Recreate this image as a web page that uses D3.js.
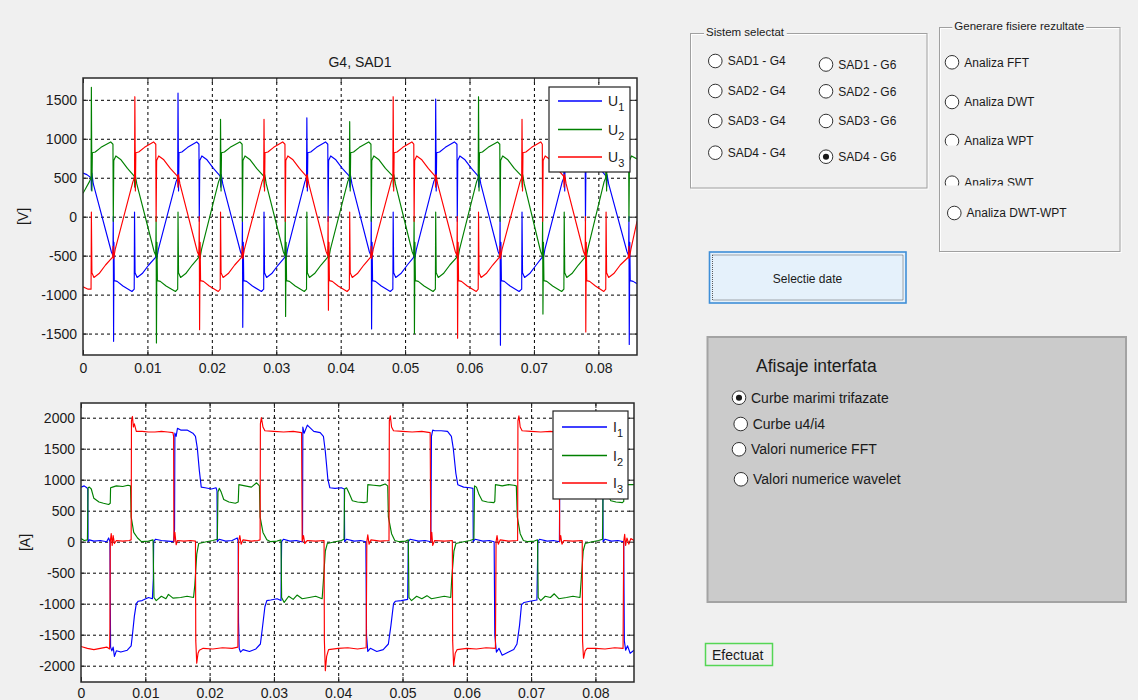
<!DOCTYPE html>
<html>
<head>
<meta charset="utf-8">
<script src="https://cdn.jsdelivr.net/npm/d3@7"></script>
<style>
  html, body { margin: 0; padding: 0; background: #f0f0f0; }
  svg { display: block; font-family: "Liberation Sans", Arial, sans-serif; }
</style>
</head>
<body>
<div id="chart"></div>
<script>
// axes ticks
const xTicks = [0, 0.01, 0.02, 0.03, 0.04, 0.05, 0.06, 0.07, 0.08];
const xTickLabels = ['0', '0.01', '0.02', '0.03', '0.04', '0.05', '0.06', '0.07', '0.08'];
const uTicks = [-1500, -1000, -500, 0, 500, 1000, 1500];
const iTicks = [-2000, -1500, -1000, -500, 0, 500, 1000, 1500, 2000];

// phase voltages, [time ms, V]
const u1 = [[0,560],[0.6,540],[1.25,500],[1.3,340],[1.38,560],[1.6,420],
  [4.4,-450],[4.65,-500],[4.7,0],[4.75,-1600],[4.8,-330],[4.85,-820],[5.3,-830],[6.2,-890],[7.6,-960],[7.95,-930],[8.0,60],[8.08,-720],[8.4,-780],[9.2,-730],[10.2,-620],[11.3,-520],[11.38,-380],[11.45,-540],[11.7,-420],
  [14.45,450],[14.7,500],[14.75,1585],[14.83,330],[14.9,820],[15.35,830],[16.25,890],[17.65,960],[18.0,930],[18.05,-60],[18.13,720],[18.45,780],[19.25,730],[20.25,620],[21.3,520],[21.38,380],[21.45,540],[21.7,420],
  [24.45,-450],[24.7,-500],[24.75,0],[24.8,-1420],[24.88,-330],[24.95,-820],[25.4,-830],[26.3,-890],[27.7,-960],[28.05,-930],[28.1,60],[28.18,-720],[28.5,-780],[29.3,-730],[30.3,-620],[31.35,-520],[31.43,-380],[31.5,-540],[31.75,-420],
  [34.45,450],[34.7,500],[34.75,1270],[34.83,330],[34.9,820],[35.35,830],[36.25,890],[37.65,960],[38.0,930],[38.05,-60],[38.13,720],[38.45,780],[39.25,730],[40.25,620],[41.35,520],[41.43,380],[41.5,540],[41.75,420],
  [44.45,-450],[44.7,-500],[44.75,0],[44.8,-1440],[44.88,-330],[44.95,-820],[45.4,-830],[46.3,-890],[47.7,-960],[48.1,-930],[48.15,60],[48.23,-720],[48.55,-780],[49.35,-730],[50.35,-620],[51.35,-520],[51.43,-380],[51.5,-540],[51.75,-420],
  [54.45,450],[54.7,500],[54.75,1510],[54.83,330],[54.9,820],[55.35,830],[56.25,890],[57.65,960],[58.05,930],[58.1,-60],[58.18,720],[58.5,780],[59.3,730],[60.3,620],[61.35,520],[61.43,380],[61.5,540],[61.75,420],
  [64.45,-450],[64.7,-500],[64.75,0],[64.8,-1650],[64.88,-330],[64.95,-820],[65.4,-830],[66.3,-890],[67.7,-960],[68.1,-930],[68.15,60],[68.23,-720],[68.55,-780],[69.35,-730],[70.35,-620],[71.3,-520],[71.38,-380],[71.45,-540],[71.7,-420],
  [74.4,450],[74.65,500],[74.7,1300],[74.78,330],[74.85,820],[75.3,830],[76.2,890],[77.6,960],[77.95,930],[78.0,-60],[78.08,720],[78.4,780],[79.2,730],[80.2,620],[81.2,520],[81.28,380],[81.35,540],[81.6,420],
  [84.45,-450],[84.7,-500],[84.75,0],[84.8,-1640],[84.88,-330],[84.95,-820],[85.4,-830],[86,-860]];

const u2 = [[0,300],[1.0,450],[1.25,500],[1.3,1660],[1.38,330],[1.45,820],[1.9,830],[2.8,890],[4.3,960],[4.65,930],[4.7,-60],[4.78,720],[5.1,780],[5.9,730],[6.9,620],[7.95,520],[8.03,380],[8.1,540],[8.35,420],
  [11.05,-450],[11.3,-500],[11.35,0],[11.4,-1620],[11.48,-330],[11.55,-820],[12.0,-830],[12.9,-890],[14.35,-960],[14.7,-930],[14.75,60],[14.83,-720],[15.15,-780],[15.95,-730],[16.95,-620],[18.0,-520],[18.08,-380],[18.15,-540],[18.4,-420],
  [21.05,450],[21.3,500],[21.35,1250],[21.43,330],[21.5,820],[21.95,830],[22.85,890],[24.35,960],[24.7,930],[24.75,-60],[24.83,720],[25.15,780],[25.95,730],[26.95,620],[28.05,520],[28.13,380],[28.2,540],[28.45,420],
  [31.1,-450],[31.35,-500],[31.4,0],[31.45,-1280],[31.53,-330],[31.6,-820],[32.05,-830],[32.95,-890],[34.35,-960],[34.7,-930],[34.75,60],[34.83,-720],[35.15,-780],[35.95,-730],[36.95,-620],[38.0,-520],[38.08,-380],[38.15,-540],[38.4,-420],
  [41.1,450],[41.35,500],[41.4,1220],[41.48,330],[41.55,820],[42.0,830],[42.9,890],[44.35,960],[44.7,930],[44.75,-60],[44.83,720],[45.15,780],[45.95,730],[46.95,620],[48.1,520],[48.18,380],[48.25,540],[48.5,420],
  [51.1,-450],[51.35,-500],[51.4,0],[51.45,-1500],[51.53,-330],[51.6,-820],[52.05,-830],[52.95,-890],[54.35,-960],[54.7,-930],[54.75,60],[54.83,-720],[55.15,-780],[55.95,-730],[56.95,-620],[58.05,-520],[58.13,-380],[58.2,-540],[58.45,-420],
  [61.1,450],[61.35,500],[61.4,1540],[61.48,330],[61.55,820],[62.0,830],[62.9,890],[64.35,960],[64.7,930],[64.75,-60],[64.83,720],[65.15,780],[65.95,730],[66.95,620],[68.1,520],[68.18,380],[68.25,540],[68.5,420],
  [71.05,-450],[71.3,-500],[71.35,0],[71.4,-1250],[71.48,-330],[71.55,-820],[72.0,-830],[72.9,-890],[74.3,-960],[74.65,-930],[74.7,60],[74.78,-720],[75.1,-780],[75.9,-730],[76.9,-620],[77.95,-520],[78.03,-380],[78.1,-540],[78.35,-420],
  [80.9,450],[81.15,500],[81.2,1300],[81.28,330],[81.35,820],[81.8,830],[82.7,890],[84.35,960],[84.7,930],[84.75,-60],[84.83,720],[85.15,780],[86,740]];

const u3 = [[0,-900],[0.8,-930],[1.25,-930],[1.3,60],[1.38,-720],[1.7,-780],[2.5,-730],[3.5,-620],[4.6,-520],[4.68,-380],[4.75,-540],[5.0,-420],
  [7.75,450],[8.0,500],[8.05,1540],[8.13,330],[8.2,820],[8.65,830],[9.55,890],[10.95,960],[11.3,930],[11.35,-60],[11.43,720],[11.75,780],[12.55,730],[13.55,620],[14.65,520],[14.73,380],[14.8,540],[15.05,420],
  [17.75,-450],[18.0,-500],[18.05,0],[18.1,-1450],[18.18,-330],[18.25,-820],[18.7,-830],[19.6,-890],[21.0,-960],[21.3,-930],[21.35,60],[21.43,-720],[21.75,-780],[22.55,-730],[23.55,-620],[24.65,-520],[24.73,-380],[24.8,-540],[25.05,-420],
  [27.8,450],[28.05,500],[28.1,1250],[28.18,330],[28.25,820],[28.7,830],[29.6,890],[31.0,960],[31.35,930],[31.4,-60],[31.48,720],[31.8,780],[32.6,730],[33.6,620],[34.65,520],[34.73,380],[34.8,540],[35.05,420],
  [37.75,-450],[38.0,-500],[38.05,0],[38.1,-1200],[38.18,-330],[38.25,-820],[38.7,-830],[39.6,-890],[41.0,-960],[41.35,-930],[41.4,60],[41.48,-720],[41.8,-780],[42.6,-730],[43.6,-620],[44.65,-520],[44.73,-380],[44.8,-540],[45.05,-420],
  [47.85,450],[48.1,500],[48.15,1540],[48.23,330],[48.3,820],[48.75,830],[49.65,890],[51.05,960],[51.35,930],[51.4,-60],[51.48,720],[51.8,780],[52.6,730],[53.6,620],[54.65,520],[54.73,380],[54.8,540],[55.05,420],
  [57.8,-450],[58.05,-500],[58.1,0],[58.15,-1560],[58.23,-330],[58.3,-820],[58.75,-830],[59.65,-890],[61.05,-960],[61.35,-930],[61.4,60],[61.48,-720],[61.8,-780],[62.6,-730],[63.6,-620],[64.65,-520],[64.73,-380],[64.8,-540],[65.05,-420],
  [67.85,450],[68.1,500],[68.15,1250],[68.23,330],[68.3,820],[68.75,830],[69.65,890],[71.05,960],[71.3,930],[71.35,-60],[71.43,720],[71.75,780],[72.55,730],[73.55,620],[74.6,520],[74.68,380],[74.75,540],[75.0,420],
  [77.7,-450],[77.95,-500],[78.0,0],[78.05,-1480],[78.13,-330],[78.2,-820],[78.65,-830],[79.55,-890],[80.85,-960],[81.15,-930],[81.2,60],[81.28,-720],[81.6,-780],[82.4,-730],[83.4,-620],[84.65,-520],[84.73,-380],[84.8,-540],[85.05,-420],[86,-60]];

// phase currents, [time ms, A]
const i1 = [[0,880],[0.5,900],[0.9,870],[1.05,850],[1.1,0],[1.3,30],[2,10],[3,20],[4.0,0],[4.3,60],[4.5,0],[4.6,-1700],[4.8,-1760],[5.0,-1700],[5.2,-1850],[5.5,-1760],[6.2,-1780],[7.2,-1750],[7.8,-1680],[8.0,-1500],[8.3,-1200],[8.6,-1000],[8.9,-960],[9.5,-950],[10.5,-900],[11.1,-920],[11.25,-600],[11.3,0],[11.6,40],[12.5,20],[13.5,10],[14.4,0],[14.55,200],
  [14.6,1750],[14.8,1700],[15.0,1830],[15.5,1800],[16.5,1800],[17.4,1750],[17.8,1700],[18.1,1500],[18.4,1150],[18.7,880],[19.3,870],[20.3,850],[21.0,870],[21.15,820],[21.2,0],[21.5,40],[22.5,10],[23.5,20],[24.3,60],[24.45,0],
  [24.5,-1300],[24.6,-1720],[24.8,-1780],[25.2,-1740],[26.2,-1770],[27.2,-1730],[27.9,-1650],[28.2,-1400],[28.6,-1050],[28.9,-950],[29.5,-940],[30.5,-920],[31.1,-950],[31.2,0],[31.5,40],[32.5,10],[33.5,20],[34.3,0],[34.45,0],
  [34.5,1850],[34.7,1750],[35.2,1880],[36.2,1780],[37.2,1760],[37.7,1700],[38.0,1450],[38.4,1000],[38.7,870],[39.5,860],[40.5,870],[40.95,850],[41.0,0],[41.3,40],[42.5,10],[43.5,20],[44.3,0],
  [44.4,-1500],[44.6,-1770],[45.0,-1720],[46.0,-1770],[47.0,-1740],[47.8,-1650],[48.2,-1350],[48.6,-1000],[48.9,-960],[49.8,-950],[50.8,-930],[50.9,0],[51.2,40],[52.5,10],[53.5,20],[54.4,0],
  [54.5,1700],[54.7,1800],[55.0,1790],[56.0,1790],[57.0,1780],[57.6,1700],[57.9,1500],[58.3,1100],[58.6,920],[59.5,880],[60.5,870],[60.95,860],[61.0,0],[61.3,40],[62.5,10],[63.5,20],[64.25,0],
  [64.35,-1500],[64.6,-1780],[65.0,-1720],[65.5,-1830],[66.5,-1780],[67.3,-1740],[67.8,-1650],[68.2,-1350],[68.5,-1020],[68.9,-980],[69.8,-960],[70.9,-940],[71.05,0],[71.3,40],[72.5,10],[73.5,20],[74.4,0],
  [74.5,1800],[75.0,1800],[76.0,1790],[77.0,1780],[77.6,1700],[77.9,1500],[78.3,1100],[78.6,900],[79.5,880],[80.5,870],[81.15,860],[81.2,0],[81.5,40],[82.5,10],[83.5,20],[84.4,0],
  [84.5,-1600],[84.7,-1750],[85.0,-1680],[85.4,-1800],[86,-1750]];

const i2 = [[0,50],[0.5,20],[1.0,30],[1.1,870],[1.3,880],[1.6,850],[2.0,700],[2.8,640],[3.5,620],[4.3,600],[4.55,620],[4.6,870],[4.9,880],[5.5,900],[6.5,890],[7.3,910],[7.7,900],[7.8,400],[8.2,150],[8.8,60],[9.4,0],[10.5,10],[11.2,30],
  [11.3,-600],[11.35,-900],[11.7,-950],[12.5,-880],[13.2,-920],[13.6,-850],[14.3,-910],[15.5,-900],[16.5,-880],[17.5,-900],[17.7,-700],[18.0,-200],[18.3,-30],[19.5,0],[20.5,20],[21.2,40],
  [21.3,800],[21.5,860],[21.8,800],[22.2,680],[23.0,640],[24.0,620],[24.45,640],[24.55,920],[25.5,900],[26.5,880],[27.3,950],[27.75,900],[27.85,400],[28.3,150],[28.9,30],[29.5,0],[30.5,10],[31.1,30],
  [31.2,-900],[31.6,-980],[32.3,-880],[33.0,-930],[33.6,-860],[34.4,-920],[35.5,-900],[36.5,-880],[37.5,-920],[37.65,-700],[38.0,-150],[38.3,-30],[39.5,0],[40.5,20],[40.9,40],
  [41.0,850],[41.3,870],[41.7,780],[42.2,660],[43.0,640],[44.0,630],[44.5,640],[44.6,920],[45.5,910],[46.5,900],[47.3,930],[47.7,900],[47.8,400],[48.3,130],[48.8,20],[49.5,0],[50.5,10],[50.9,30],
  [51.0,-900],[51.4,-950],[52.2,-880],[53.0,-920],[53.8,-870],[54.5,-920],[55.5,-900],[56.5,-880],[57.5,-900],[57.65,-600],[58.0,-150],[58.3,-30],[59.5,0],[60.5,20],[61.1,40],
  [61.2,900],[61.5,880],[61.9,760],[62.4,660],[63.2,640],[64.2,630],[64.35,650],[64.45,920],[65.5,900],[66.5,920],[67.3,910],[67.7,900],[67.85,400],[68.3,130],[68.8,20],[69.5,0],[70.5,10],[71.0,30],
  [71.1,-900],[71.5,-950],[72.2,-880],[73.0,-900],[73.6,-840],[74.3,-920],[75.5,-900],[76.5,-880],[77.6,-900],[77.8,-600],[78.1,-150],[78.4,-30],[79.5,0],[80.5,20],[81.1,40],
  [81.2,900],[81.5,880],[81.9,760],[82.4,660],[83.2,640],[84.2,630],[84.4,650],[84.5,920],[85.2,920],[86,920]];

const i3 = [[0,-1690],[1.0,-1720],[2.0,-1740],[3.0,-1720],[4.0,-1700],[4.45,-1730],[4.5,-1400],[4.55,0],[4.7,130],[4.85,-60],[5.0,100],[5.2,-30],[5.5,20],[6.5,10],[7.5,20],[7.8,30],
  [7.85,1950],[8.0,2020],[8.15,1850],[8.3,1900],[8.6,1780],[9.5,1780],[10.5,1770],[11.5,1770],[12.5,1780],[13.5,1770],[14.3,1760],[14.4,1700],[14.45,0],[14.6,150],[14.8,-50],[15.0,20],[16.0,10],[17.0,20],[17.8,10],
  [17.85,-1600],[18.0,-1960],[18.2,-1800],[18.4,-1750],[19.0,-1720],[20.5,-1730],[22.0,-1710],[23.5,-1720],[24.4,-1700],[24.5,0],[24.7,100],[24.9,-40],[25.2,30],[26.5,10],[27.5,20],[27.85,30],
  [27.9,1900],[28.05,2000],[28.3,1850],[28.6,1790],[30.0,1780],[31.5,1770],[33.0,1780],[34.3,1760],[34.4,0],[34.6,100],[34.8,-30],[35.2,20],[36.5,10],[37.8,20],
  [37.85,-1600],[38.0,-2080],[38.2,-1850],[38.5,-1740],[40.0,-1720],[41.5,-1710],[43.0,-1730],[44.35,-1710],[44.45,0],[44.6,110],[44.8,-40],[45.1,30],[46.5,10],[47.9,20],
  [47.95,1950],[48.1,2030],[48.3,1850],[48.6,1790],[50.0,1780],[51.5,1770],[53.0,1780],[54.3,1760],[54.4,0],[54.55,150],[54.7,-60],[55.0,20],[56.5,10],[57.75,20],
  [57.8,-1600],[57.95,-2000],[58.2,-1800],[58.5,-1740],[60.0,-1720],[61.5,-1730],[63.0,-1710],[64.45,-1720],[64.55,0],[64.7,100],[64.9,-40],[65.2,30],[66.5,10],[67.9,20],
  [67.95,1950],[68.1,2030],[68.3,1850],[68.6,1790],[70.0,1780],[71.5,1770],[73.0,1780],[74.35,1760],[74.45,0],[74.6,100],[74.8,-40],[75.1,20],[76.5,10],[77.95,20],
  [78.0,-1600],[78.15,-1880],[78.4,-1760],[78.7,-1720],[80.0,-1720],[81.5,-1730],[83.0,-1710],[84.3,-1720],[84.4,0],[84.55,120],[84.7,-60],[84.9,60],[85.2,-40],[85.5,50],[86,20]];

const phaseColors = ['#0000ff', '#008000', '#ff0000'];
const phaseSubs = ['1', '2', '3'];

// GUI texts
const sistemCol1 = ['SAD1 - G4', 'SAD2 - G4', 'SAD3 - G4', 'SAD4 - G4'];
const sistemCol2 = ['SAD1 - G6', 'SAD2 - G6', 'SAD3 - G6', 'SAD4 - G6'];
const analizaLabels = ['Analiza FFT', 'Analiza DWT', 'Analiza WPT', 'Analiza SWT', 'Analiza DWT-WPT'];
const afisajeLabels = ['Curbe marimi trifazate', 'Curbe u4/i4', 'Valori numerice FFT', 'Valori numerice wavelet'];

const W = 1138, H = 700;
const svg = d3.select('#chart').append('svg').attr('width', W).attr('height', H);
svg.append('rect').attr('width', W).attr('height', H).attr('fill', '#f0f0f0');

let clipId = 0;

function drawPlot(cfg) {
  const x = d3.scaleLinear().domain([0, 0.086]).range([cfg.left, cfg.right]);
  const y = d3.scaleLinear().domain(cfg.yDomain).range([cfg.bottom, cfg.top]);
  const w = cfg.right - cfg.left, h = cfg.bottom - cfg.top;
  const g = svg.append('g');

  g.append('rect').attr('x', cfg.left).attr('y', cfg.top).attr('width', w).attr('height', h).attr('fill', '#fff');

  // dotted grid
  g.append('g').attr('transform', `translate(0,${cfg.bottom})`)
    .call(d3.axisBottom(x).tickValues(xTicks.slice(1)).tickSize(-h).tickFormat(''))
    .call(a => a.select('.domain').remove())
    .selectAll('line').attr('stroke', '#000').attr('stroke-dasharray', '3,3');
  g.append('g').attr('transform', `translate(${cfg.left},0)`)
    .call(d3.axisLeft(y).tickValues(cfg.yTicks).tickSize(-w).tickFormat(''))
    .call(a => a.select('.domain').remove())
    .selectAll('line').attr('stroke', '#000').attr('stroke-dasharray', '3,3');

  const cid = 'clip' + (clipId++);
  g.append('clipPath').attr('id', cid).append('rect')
    .attr('x', cfg.left).attr('y', cfg.top).attr('width', w).attr('height', h);

  const line = d3.line().x(d => x(d[0] / 1000)).y(d => y(d[1]));
  g.append('g').attr('clip-path', `url(#${cid})`)
    .selectAll('path').data(cfg.series).join('path')
    .attr('d', line).attr('fill', 'none')
    .attr('stroke', (d, i) => phaseColors[i]).attr('stroke-width', 1.15)
    .attr('stroke-linejoin', 'round');

  // axes with inward ticks
  const fmtX = (d, i) => xTickLabels[i];
  g.append('g').attr('transform', `translate(0,${cfg.bottom})`)
    .call(d3.axisBottom(x).tickValues(xTicks).tickFormat(fmtX).tickSizeInner(-5).tickSizeOuter(0).tickPadding(cfg.xPad));
  g.append('g').attr('transform', `translate(${cfg.left},0)`)
    .call(d3.axisLeft(y).tickValues(cfg.yTicks).tickFormat(d => String(d)).tickSizeInner(-5).tickSizeOuter(0).tickPadding(6));
  g.append('g').attr('transform', `translate(0,${cfg.top})`)
    .call(d3.axisTop(x).tickValues(xTicks).tickFormat('').tickSizeInner(-5).tickSizeOuter(0));
  g.append('g').attr('transform', `translate(${cfg.right},0)`)
    .call(d3.axisRight(y).tickValues(cfg.yTicks).tickFormat('').tickSizeInner(-5).tickSizeOuter(0));
  g.selectAll('.domain').remove();
  g.selectAll('.tick text').attr('font-size', 14).attr('fill', '#1a1a1a')
    .attr('font-family', '"Liberation Sans", Arial, sans-serif');
  g.selectAll('.tick line').filter(function () { return !this.getAttribute('stroke-dasharray'); })
    .attr('stroke', '#222');

  g.append('rect').attr('x', cfg.left).attr('y', cfg.top).attr('width', w).attr('height', h)
    .attr('fill', 'none').attr('stroke', '#2a2a2a').attr('stroke-width', 1.5);

  // y label
  g.append('text').attr('transform', `translate(${cfg.ylabelX},${(cfg.top + cfg.bottom) / 2}) rotate(-90)`)
    .attr('text-anchor', 'middle').attr('font-size', 14).attr('fill', '#1a1a1a').text(cfg.ylabel);

  if (cfg.title) {
    g.append('text').attr('x', (cfg.left + cfg.right) / 2).attr('y', cfg.top - 11)
      .attr('text-anchor', 'middle').attr('font-size', 14).attr('fill', '#1a1a1a').text(cfg.title);
  }

  // legend
  const L = cfg.legend;
  const lg = g.append('g');
  lg.append('rect').attr('x', L.x).attr('y', L.y).attr('width', L.w).attr('height', L.h)
    .attr('fill', '#fff').attr('stroke', '#222').attr('stroke-width', 1.2);
  const rows = lg.selectAll('g').data([0, 1, 2]).join('g')
    .attr('transform', k => `translate(0,${L.rows[k]})`);
  rows.append('line').attr('x1', L.lineX0).attr('x2', L.lineX1)
    .attr('stroke', k => phaseColors[k]).attr('stroke-width', 1.6);
  const t = rows.append('text').attr('x', L.textX).attr('y', 5).attr('font-size', 14).attr('fill', '#1a1a1a');
  t.append('tspan').text(cfg.symbol);
  t.append('tspan').attr('dy', 5).attr('font-size', 11).text(k => phaseSubs[k]);
}

drawPlot({
  left: 83, right: 637, top: 78, bottom: 355,
  yDomain: [-1775, 1780], yTicks: uTicks, xPad: 8,
  series: [u1, u2, u3], symbol: 'U',
  ylabel: '[V]', ylabelX: 28, title: 'G4, SAD1',
  legend: { x: 549, y: 87, w: 81, h: 85, rows: [101, 129.5, 157], lineX0: 558, lineX1: 602, textX: 608 }
});

drawPlot({
  left: 81, right: 634, top: 403, bottom: 682,
  yDomain: [-2263, 2237], yTicks: iTicks, xPad: 6,
  series: [i1, i2, i3], symbol: 'I',
  ylabel: '[A]', ylabelX: 30, title: null,
  legend: { x: 553, y: 411, w: 75, h: 88, rows: [427, 455.5, 483], lineX0: 562, lineX1: 607, textX: 613 }
});

// ---- GUI controls ----
const ui = svg.append('g').attr('font-family', '"Liberation Sans", Arial, sans-serif').attr('fill', '#1a1a1a');

function radio(parent, cx, cy, r, checked) {
  parent.append('circle').attr('cx', cx).attr('cy', cy).attr('r', r)
    .attr('fill', '#fff').attr('stroke', '#333').attr('stroke-width', 1);
  if (checked) parent.append('circle').attr('cx', cx).attr('cy', cy).attr('r', r * 0.45).attr('fill', '#1a1a1a');
}

function groupBox(x0, y0, x1, y1, title, tx, fs) {
  const g = ui.append('g');
  g.append('rect').attr('x', x0 + 1).attr('y', y0 + 1).attr('width', x1 - x0).attr('height', y1 - y0)
    .attr('fill', 'none').attr('stroke', '#fff');
  g.append('rect').attr('x', x0).attr('y', y0).attr('width', x1 - x0).attr('height', y1 - y0)
    .attr('fill', 'none').attr('stroke', '#a0a0a0');
  const bg = g.append('rect').attr('fill', '#f0f0f0');
  const t = g.append('text').attr('x', tx).attr('y', y0 + 2.5).attr('font-size', fs).text(title);
  const bb = t.node().getBBox();
  bg.attr('x', bb.x - 2).attr('y', bb.y).attr('width', bb.width + 4).attr('height', bb.height);
  return g;
}

// Sistem selectat
const sis = groupBox(690.5, 33.5, 927, 188, 'Sistem selectat', 706, 11.5);
const col1Y = [61, 91, 121, 152.7];
const col2Y = [64.5, 91.3, 121, 156.7];
sistemCol1.forEach((s, i) => {
  radio(sis, 715.3, col1Y[i], 6.8, false);
  sis.append('text').attr('x', 727.7).attr('y', col1Y[i] + 4.2).attr('font-size', 12).text(s);
});
sistemCol2.forEach((s, i) => {
  radio(sis, 826, col2Y[i], 6.8, i === 3);
  sis.append('text').attr('x', 838.3).attr('y', col2Y[i] + 4.2).attr('font-size', 12).text(s);
});

// Generare fisiere rezultate
const gen = groupBox(939.5, 27.5, 1120, 251.5, 'Generare fisiere rezultate', 954.3, 11.5);
const anY = [62.3, 102, 141, 182.7, 213];
const anX = [952, 952, 952, 952, 954.3];
const anClip = [null, null, 145.5, 185.5, null];
analizaLabels.forEach((s, i) => {
  let p = gen;
  if (anClip[i]) {
    const cid = 'rclip' + i;
    gen.append('clipPath').attr('id', cid).append('rect')
      .attr('x', 940).attr('y', anY[i] - 12).attr('width', 170).attr('height', anClip[i] - (anY[i] - 12));
    p = gen.append('g').attr('clip-path', `url(#${cid})`);
  }
  radio(p, anX[i], anY[i], 6.8, false);
  p.append('text').attr('x', anX[i] + 12.3).attr('y', anY[i] + 4.3).attr('font-size', 12).text(s);
});

// Selectie date button
const btn = ui.append('g');
btn.append('rect').attr('x', 709.5).attr('y', 252).attr('width', 196.5).attr('height', 51)
  .attr('fill', '#e5f1fb').attr('stroke', '#3f8fd8').attr('stroke-width', 1.6);
btn.append('rect').attr('x', 712.5).attr('y', 255).attr('width', 190.5).attr('height', 45)
  .attr('fill', 'none').attr('stroke', '#333').attr('stroke-width', 0.8).attr('stroke-dasharray', '1,1');
btn.append('text').attr('x', 807.5).attr('y', 283).attr('text-anchor', 'middle').attr('font-size', 12).text('Selectie date');

// Afisaje interfata panel
const af = ui.append('g');
af.append('rect').attr('x', 707.5).attr('y', 337).attr('width', 418.5).attr('height', 265)
  .attr('fill', '#cbcbcb').attr('stroke', '#a3a3a3').attr('stroke-width', 2);
af.append('text').attr('x', 756).attr('y', 371.5).attr('font-size', 17.5).text('Afisaje interfata');
const afY = [397.7, 424, 449.3, 479.3];
const afX = [739, 740.7, 739, 741];
afisajeLabels.forEach((s, i) => {
  radio(af, afX[i], afY[i], 6.8, i === 0);
  af.append('text').attr('x', afX[i] + 12).attr('y', afY[i] + 5).attr('font-size', 14).text(s);
});

// Efectuat status
const ef = ui.append('g');
ef.append('rect').attr('x', 705.5).attr('y', 643.5).attr('width', 67).attr('height', 22)
  .attr('fill', '#f0f0f0').attr('stroke', '#55d655').attr('stroke-width', 1.5);
ef.append('text').attr('x', 712).attr('y', 660).attr('font-size', 14).text('Efectuat');
</script>
</body>
</html>
